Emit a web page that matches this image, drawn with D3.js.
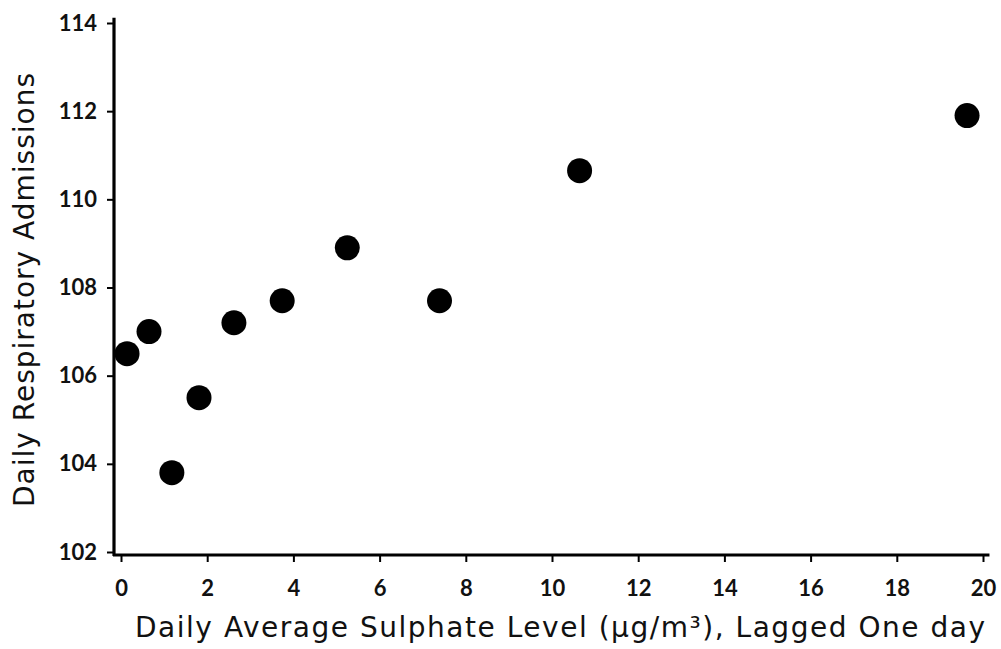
<!DOCTYPE html>
<html><head><meta charset="utf-8">
<script src="https://cdn.jsdelivr.net/npm/d3@7"></script>
<style>body{margin:0;background:#fff}svg{display:block}</style>
</head><body>
<svg id="c" width="1001" height="649"></svg>
<script>
const sulphate = [0.14, 0.65, 1.18, 1.81, 2.62, 3.74, 5.25, 7.39, 10.64, 19.63];
const admissions = [106.5, 107.0, 103.8, 105.5, 107.2, 107.7, 108.9, 107.7, 110.65, 111.9];
const xTicks = [0, 2, 4, 6, 8, 10, 12, 14, 16, 18, 20];
const yTicks = [102, 104, 106, 108, 110, 112, 114];
const xTitle = "Daily Average Sulphate Level (µg/m³), Lagged One day";
const yTitle = "Daily Respiratory Admissions";

const svg = d3.select("#c");
const font = "Lato, 'Open Sans', sans-serif";
const titleFont = "'DejaVu Sans', sans-serif";
const x = d3.scaleLinear().domain([0, 20]).range([121, 983]);
const y = d3.scaleLinear().domain([102, 114]).range([552, 23]);
const axisY0 = 555, axisX0 = 114;

// axis lines
svg.append("line").attr("x1", axisX0).attr("x2", axisX0).attr("y1", y(114.12)).attr("y2", axisY0 + 1)
  .attr("stroke", "#000").attr("stroke-width", 3.2);
svg.append("line").attr("x1", axisX0 - 1).attr("x2", x(20.15)).attr("y1", axisY0).attr("y2", axisY0)
  .attr("stroke", "#000").attr("stroke-width", 3);

const xa = svg.append("g").attr("transform", `translate(0,${axisY0})`)
  .call(d3.axisBottom(x).tickValues(xTicks).tickSize(7).tickPadding(18).tickSizeOuter(0));
xa.select(".domain").remove();
xa.selectAll(".tick line").attr("stroke-width", 2);
xa.selectAll("text").attr("font-family", font).attr("font-size", 22).attr("font-weight", 700).attr("fill", "#111");

const ya = svg.append("g").attr("transform", `translate(${axisX0},0)`)
  .call(d3.axisLeft(y).tickValues(yTicks).tickSize(7).tickPadding(10).tickSizeOuter(0));
ya.select(".domain").remove();
ya.selectAll(".tick line").attr("stroke-width", 2);
ya.selectAll("text").attr("font-family", font).attr("font-size", 22).attr("font-weight", 700).attr("fill", "#111");

svg.append("text").attr("x", 135).attr("y", 637)
  .attr("textLength", 850).attr("lengthAdjust", "spacing")
  .attr("font-family", titleFont).attr("font-size", 28).attr("fill", "#111").text(xTitle);
svg.append("text").attr("transform", `translate(34,507) rotate(-90)`)
  .attr("textLength", 434).attr("lengthAdjust", "spacing")
  .attr("font-family", titleFont).attr("font-size", 28).attr("fill", "#111").text(yTitle);

svg.append("g").selectAll("circle").data(sulphate).join("circle")
  .attr("cx", d => x(d)).attr("cy", (d, i) => y(admissions[i])).attr("r", 12.5).attr("fill", "#000");
</script>
</body></html>
